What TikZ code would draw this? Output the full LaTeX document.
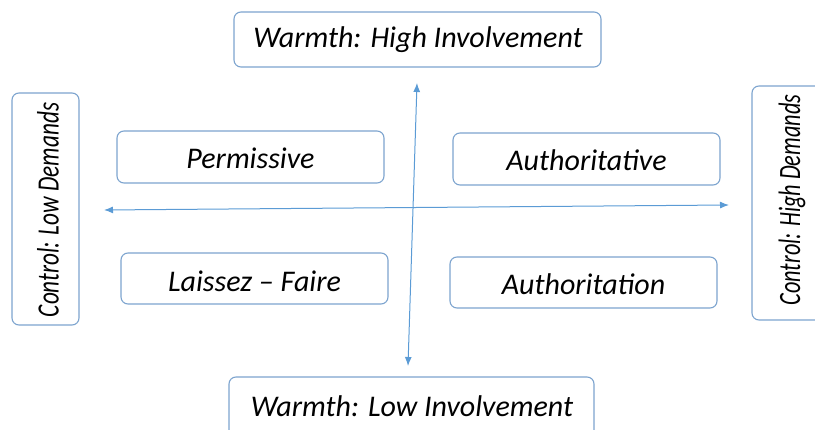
\documentclass[tikz,border=0pt]{standalone}
\usepackage{fontspec}
\setmainfont{Carlito}
\usetikzlibrary{arrows.meta}
\definecolor{boxblue}{HTML}{7DA4CF}
\definecolor{arrblue}{HTML}{5B9BD5}
\tikzset{
  qbox/.style={draw=boxblue, line width=1.1pt, rounded corners=7pt, fill=white},
  lbl/.style={font=\fontsize{30}{34}\selectfont\itshape, text=black},
  sidelbl/.style={font=\fontsize{31}{35}\selectfont\itshape, text=black, rotate=90},
  axis/.style={draw=arrblue, line width=1pt, {Latex[length=9pt,width=7pt]}-{Latex[length=9pt,width=7pt]}}
}
\begin{document}
\begin{tikzpicture}[x=1pt,y=-1pt]
\useasboundingbox (0,0) rectangle (815,430);
\begin{scope}
\clip (0,0) rectangle (815,430);
% boxes
\draw[qbox] (234,12) rectangle (601,67);
\node[lbl] (top) at (418,40) {Warmth: High Involvement};
\draw[qbox] (229,377) rectangle (594,440);
\node[lbl] (bot) at (412,406) {Warmth: Low Involvement};
\draw[qbox] (12,93) rectangle (79,325);
\node[sidelbl] (left) at (48,210) {\scalebox{0.75}[1]{Control: Low Demands}};
\draw[qbox] (752,86) rectangle (830,320);
\node[sidelbl] (right) at (792,200) {\scalebox{0.72}[1]{Control: High Demands}};
\draw[qbox] (117,131) rectangle (384,183);
\node[lbl] (perm) at (250.5,158) {Permissive};
\draw[qbox] (453,133) rectangle (720,185);
\node[lbl] (auth) at (586.5,160) {Authoritative};
\draw[qbox] (121,253) rectangle (388,304);
\node[lbl] (laiss) at (254.5,281) {Laissez -- Faire};
\draw[qbox] (450,257) rectangle (717,308);
\node[lbl] (autht) at (583.5,284) {Authoritation};
% axes
\coordinate (vt) at (417,83);
\coordinate (vb) at (408,366);
\coordinate (hl) at (104,210);
\coordinate (hr) at (729,205);
\draw[axis] (vt) -- (vb);
\draw[axis] (hl) -- (hr);
\end{scope}
\end{tikzpicture}
\end{document}
